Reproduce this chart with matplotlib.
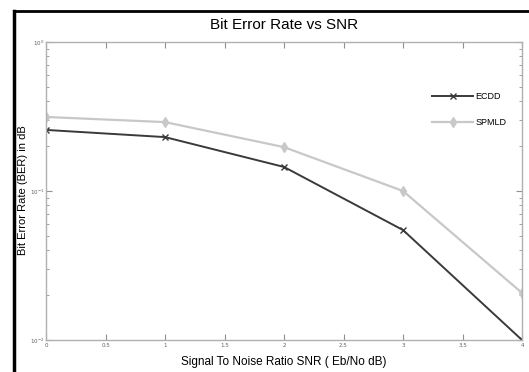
import matplotlib
matplotlib.use("Agg")
import matplotlib.pyplot as plt
from matplotlib.lines import Line2D

snr = [0, 1, 2, 3, 4]
ecdd = [0.257, 0.23, 0.145, 0.0547, 0.01]
spmld = [0.314, 0.29, 0.197, 0.100, 0.0207]
xticks = [0, 0.5, 1, 1.5, 2, 2.5, 3, 3.5, 4]
xticklabels = ["0", "0.5", "1", "1.5", "2", "2.5", "3", "3.5", "4"]

font = "Liberation Sans"

fig = plt.figure(figsize=(5.29, 3.72), dpi=100)
W, H = 529, 372
ax = fig.add_axes([46 / W, 1 - 340 / H, (522 - 46) / W, (340 - 42) / H])

ax.plot(snr, ecdd, color="#3a3a3a", lw=1.4, marker="x", ms=4, mew=1.0, label="ECDD")
ax.plot(snr, spmld, color="#c8c8c8", lw=1.6, marker="d", ms=5, label="SPMLD")

ax.set_yscale("log")
ax.set_ylim(0.01, 1)
ax.set_xlim(0, 4)
ax.set_xticks(xticks)
ax.set_xticklabels(xticklabels)
for s in ax.spines.values():
    s.set_color("#b0b0b0")
    s.set_linewidth(1.0)
ax.tick_params(which="both", direction="in", top=True, right=True, colors="#909090",
               labelsize=4, labelcolor="#606060", pad=2)
ax.tick_params(axis="y", pad=1)
ax.tick_params(which="major", length=4)
ax.tick_params(which="minor", length=2)

fig.text(284 / W, 1 - 25 / H, "Bit Error Rate vs SNR", fontsize=11, family=font,
         ha="center", va="center")
fig.text(284 / W, 1 - 362 / H, "Signal To Noise Ratio SNR ( Eb/No dB)", fontsize=8.5,
         family=font, ha="center", va="center")
fig.text(23 / W, 1 - 190 / H, "Bit Error Rate (BER) in dB", fontsize=8, family=font,
         ha="center", va="center", rotation=90)

ax.legend(loc="upper right", bbox_to_anchor=(0.985, 0.86), frameon=False,
          prop={"family": font, "size": 6.5}, handlelength=4.5,
          labelspacing=1.9, handletextpad=0.3)

fig.add_artist(Line2D([14 / W, 14 / W], [0, 1 - 11 / H], color="black", lw=2.5,
                      transform=fig.transFigure))
fig.add_artist(Line2D([14 / W, 1], [1 - 11 / H, 1 - 11 / H], color="black", lw=2.0,
                      transform=fig.transFigure))

fig.savefig("out.png", dpi=100)
